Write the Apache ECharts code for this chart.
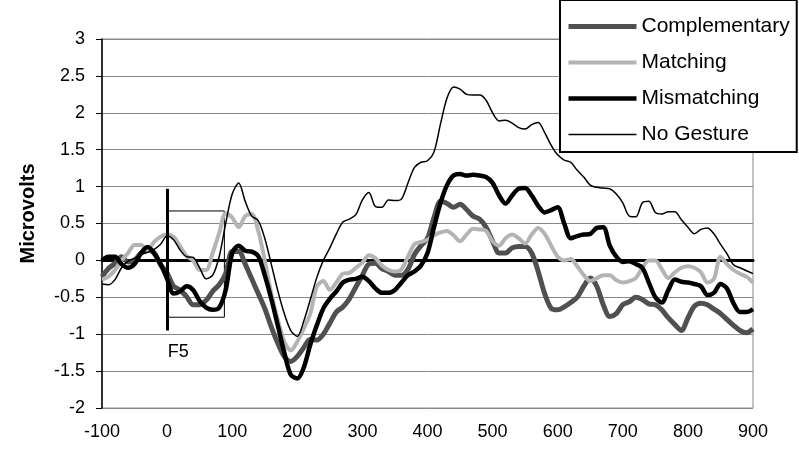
<!DOCTYPE html>
<html>
<head>
<meta charset="utf-8">
<script src="https://cdn.jsdelivr.net/npm/echarts@6/dist/echarts.min.js"></script>
<style>html,body{margin:0;padding:0;background:#fff}#c{width:799px;height:454px}</style>
</head>
<body>
<div id="c"></div>
<script>
// time points (ms), every 10 ms from -100 to 900
var times = [];
for (var t = -100; t <= 900; t += 10) times.push(t);

var complementary = [
 -0.22,-0.11,-0.04,0.05,-0.02,0.0,0.1,0.14,0.1,-0.06,
 -0.17,-0.35,-0.4,-0.49,-0.6,-0.6,-0.54,-0.42,-0.33,-0.18,
 0.12,0.12,-0.05,-0.25,-0.45,-0.65,-0.9,-1.12,-1.3,-1.37,
 -1.3,-1.18,-1.07,-1.08,-1.0,-0.85,-0.7,-0.63,-0.52,-0.36,
 -0.2,-0.05,-0.04,-0.11,-0.15,-0.2,-0.2,-0.12,0.08,0.2,
 0.3,0.58,0.8,0.77,0.72,0.76,0.69,0.6,0.56,0.45,
 0.26,0.1,0.1,0.17,0.19,0.19,0.1,-0.15,-0.45,-0.65,
 -0.67,-0.63,-0.57,-0.5,-0.35,-0.24,-0.35,-0.6,-0.76,-0.72,
 -0.6,-0.56,-0.5,-0.53,-0.59,-0.6,-0.67,-0.78,-0.87,-0.95,
 -0.78,-0.62,-0.58,-0.6,-0.66,-0.72,-0.8,-0.88,-0.95,-0.98,
 -0.93
];
var matching = [
 -0.26,-0.22,-0.13,0.0,0.1,0.21,0.21,0.14,0.25,0.32,
 0.35,0.32,0.19,0.06,0.0,-0.13,-0.13,0.1,0.37,0.64,
 0.58,0.45,0.6,0.63,0.4,0.0,-0.45,-0.8,-1.1,-1.22,
 -1.1,-0.92,-0.72,-0.35,-0.28,-0.4,-0.3,-0.18,-0.17,-0.1,
 -0.03,0.07,0.03,-0.07,-0.13,-0.15,-0.12,0.05,0.22,0.25,
 0.28,0.34,0.38,0.4,0.34,0.26,0.35,0.43,0.42,0.4,
 0.26,0.2,0.3,0.35,0.3,0.23,0.35,0.44,0.36,0.2,
 0.05,0.0,0.02,-0.08,-0.2,-0.28,-0.24,-0.2,-0.2,-0.27,
 -0.3,-0.28,-0.24,-0.1,0.0,0.0,-0.12,-0.24,-0.16,-0.1,
 -0.08,-0.1,-0.16,-0.3,-0.25,0.05,-0.05,-0.13,-0.18,-0.22,
 -0.3
];
var mismatching = [
 0.0,0.05,0.05,-0.05,-0.1,-0.05,0.1,0.18,0.1,-0.05,
 -0.25,-0.45,-0.42,-0.35,-0.4,-0.55,-0.64,-0.67,-0.64,-0.4,
 0.1,0.2,0.13,0.12,0.06,-0.2,-0.52,-0.88,-1.25,-1.55,
 -1.6,-1.45,-1.14,-0.88,-0.65,-0.52,-0.42,-0.3,-0.26,-0.25,
 -0.22,-0.28,-0.38,-0.44,-0.44,-0.4,-0.3,-0.2,-0.15,-0.07,
 0.1,0.45,0.78,1.02,1.15,1.17,1.15,1.16,1.15,1.13,
 1.05,0.88,0.77,0.88,0.97,0.98,0.88,0.74,0.65,0.68,
 0.72,0.5,0.3,0.33,0.35,0.36,0.44,0.45,0.2,0.05,
 -0.02,-0.01,-0.05,-0.1,-0.3,-0.5,-0.57,-0.4,-0.26,-0.29,
 -0.3,-0.32,-0.35,-0.47,-0.44,-0.32,-0.38,-0.58,-0.7,-0.7,
 -0.66
];
var noGesture = [
 -0.32,-0.33,-0.26,-0.1,-0.01,0.03,0.08,0.11,0.15,0.22,
 0.33,0.28,0.14,0.05,0.04,-0.1,-0.25,-0.2,0.05,0.5,
 0.9,1.05,0.8,0.6,0.54,0.3,-0.05,-0.41,-0.72,-0.95,
 -1.03,-0.82,-0.53,-0.23,0.0,0.17,0.36,0.52,0.56,0.62,
 0.82,0.92,0.73,0.72,0.82,0.81,0.83,1.05,1.26,1.33,
 1.35,1.47,1.85,2.2,2.35,2.32,2.25,2.24,2.24,2.17,
 2.0,1.89,1.9,1.86,1.8,1.78,1.84,1.87,1.73,1.56,
 1.43,1.36,1.33,1.22,1.13,1.02,0.99,0.98,0.97,0.9,
 0.78,0.6,0.59,0.78,0.8,0.65,0.63,0.66,0.66,0.55,
 0.45,0.36,0.42,0.44,0.36,0.22,0.09,-0.06,-0.1,-0.14,
 -0.18
];

var seriesNames = ['Complementary', 'Matching', 'Mismatching', 'No Gesture'];
var xTicks = [-100, 0, 100, 200, 300, 400, 500, 600, 700, 800, 900];
var yTicks = [-2, -1.5, -1, -0.5, 0, 0.5, 1, 1.5, 2, 2.5, 3];

// F5 annotation (data coordinates)
var boxX = [0, 88];
var boxY = [-0.77, 0.67];
var markerX = 0;
var markerY = [-0.95, 0.97];
var f5Label = 'F5';
var f5Pos = [17, -1.24];

function pairs(vals) {
  return times.map(function (t, i) { return [t, vals[i]]; });
}

var FONT = 'Arial, "Liberation Sans", sans-serif';
var lineColors = ['#505050', '#b4b4b4', '#000', '#000'];
var lineWidths = [5, 4, 4.5, 1.5];

var chart = echarts.init(document.getElementById('c'), null, {renderer: 'canvas'});

chart.setOption({
  animation: false,
  backgroundColor: '#fff',
  textStyle: {fontFamily: FONT},
  grid: {left: 102, right: 46, top: 39, bottom: 46, show: true, borderColor: '#888', borderWidth: 1, backgroundColor: 'transparent'},
  legend: {
    orient: 'vertical', left: 560, top: 0,
    padding: [16, 7, 7, 6],
    itemWidth: 68, itemHeight: 18, itemGap: 15, itemTextGap: 3,
    backgroundColor: '#fff', borderColor: '#000', borderWidth: 2,
    itemStyle: {opacity: 0},
    textStyle: {fontSize: 21, color: '#000', fontFamily: FONT},
    data: seriesNames.map(function (n, i) {
      return {name: n, lineStyle: {width: lineWidths[i], color: lineColors[i]}};
    })
  },
  xAxis: [{
    type: 'value', min: xTicks[0], max: xTicks[xTicks.length - 1], interval: 100,
    position: 'bottom',
    axisLine: {show: false, onZero: false},
    axisTick: {show: false},
    splitLine: {show: false},
    axisLabel: {fontSize: 18, color: '#000', margin: 15, fontFamily: FONT}
  }, {
    type: 'value', min: xTicks[0], max: xTicks[xTicks.length - 1], interval: 100,
    position: 'bottom',
    axisLine: {show: true, onZero: true, onZeroAxisIndex: 0, lineStyle: {color: '#000', width: 3}},
    axisTick: {show: false},
    axisLabel: {show: false},
    splitLine: {show: false}
  }],
  yAxis: {
    type: 'value', min: yTicks[0], max: yTicks[yTicks.length - 1], interval: 0.5,
    name: 'Microvolts', nameLocation: 'middle', nameGap: 64,
    nameTextStyle: {fontSize: 20, fontWeight: 'bold', color: '#000', fontFamily: FONT, padding: [0, 0, 0, 20]},
    axisLine: {show: true, onZero: false, lineStyle: {color: '#000', width: 1.5}},
    axisTick: {show: true, inside: false, length: 6, lineStyle: {color: '#000', width: 1}},
    axisLabel: {fontSize: 18, color: '#000', margin: 17, fontFamily: FONT},
    splitLine: {show: true, lineStyle: {color: '#888', width: 1}}
  },
  series: [{
    name: seriesNames[0], type: 'line', data: pairs(complementary), symbol: 'none', smooth: 0.3,
    color: lineColors[0], lineStyle: {color: lineColors[0], width: lineWidths[0]},
    markArea: {
      silent: true,
      itemStyle: {color: 'rgba(0,0,0,0)', borderColor: '#000', borderWidth: 1},
      data: [[{coord: [boxX[0], boxY[0]]}, {coord: [boxX[1], boxY[1]]}]]
    },
    markLine: {
      silent: true, symbol: 'none', label: {show: false},
      lineStyle: {color: '#000', width: 3, type: 'solid'},
      data: [[{coord: [markerX, markerY[0]]}, {coord: [markerX, markerY[1]]}]]
    },
    markPoint: {
      silent: true, symbol: 'circle', symbolSize: 1,
      itemStyle: {color: 'rgba(0,0,0,0)'},
      label: {show: true, position: 'inside', formatter: f5Label, fontSize: 18, color: '#000', fontFamily: FONT},
      data: [{coord: f5Pos}]
    }
  }, {
    name: seriesNames[1], type: 'line', data: pairs(matching), symbol: 'none', smooth: 0.3,
    color: lineColors[1], lineStyle: {color: lineColors[1], width: lineWidths[1]}
  }, {
    name: seriesNames[2], type: 'line', data: pairs(mismatching), symbol: 'none', smooth: 0.3,
    color: lineColors[2], lineStyle: {color: lineColors[2], width: lineWidths[2]}
  }, {
    name: seriesNames[3], type: 'line', data: pairs(noGesture), symbol: 'none', smooth: 0.3,
    color: lineColors[3], lineStyle: {color: lineColors[3], width: lineWidths[3]}
  }]
});
</script>
</body>
</html>
